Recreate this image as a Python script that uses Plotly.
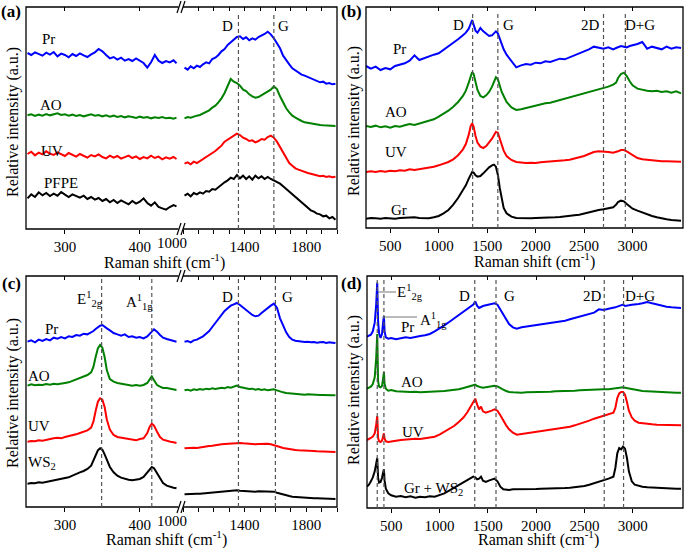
import plotly.graph_objects as go

W, H = 685, 548
FONT = "Liberation Serif, Times New Roman, serif"

# ---------------- DATA ----------------
# panel (a) / (c) broken axis: low-shift segment and high-shift segment
A_L_X = [250, 255, 260, 265, 270, 275, 280, 285, 290, 295, 300, 305, 310, 315, 320, 325, 330, 335, 340, 345,
         350, 355, 360, 365, 370, 375, 380, 385, 390, 395, 400, 405, 410, 415, 420, 425, 430, 435, 440, 445, 449]
R_X = [1010, 1030, 1050, 1070, 1090, 1110, 1130, 1150, 1170, 1190, 1210, 1230, 1250, 1270, 1290, 1310, 1330, 1350,
       1370, 1390, 1410, 1430, 1450, 1470, 1490, 1510, 1530, 1550, 1570, 1590, 1610, 1630, 1650, 1670, 1690, 1710,
       1730, 1750, 1770, 1790, 1810, 1830, 1850, 1870, 1890, 1910, 1930, 1950, 1970, 1990]

a_pr_l = [528, 522, 530, 524, 520, 529, 523, 531, 518, 526, 522, 515, 525, 519, 527, 521, 516, 524, 530, 540,
          533, 522, 512, 516, 508, 514, 505, 510, 504, 512, 506, 498, 484, 500, 522, 505, 498, 504, 500, 506, 497]
a_ao_l = [341, 344, 339, 343, 340, 345, 341, 343, 347, 342, 344, 340, 343, 339, 342, 338, 341, 344, 340, 342,
          338, 341, 337, 340, 336, 339, 335, 338, 336, 333, 337, 334, 336, 332, 335, 333, 336, 332, 334, 331, 334]
a_uv_l = [225, 232, 221, 229, 224, 233, 226, 222, 230, 224, 219, 228, 223, 217, 225, 220, 214, 222, 218, 224,
          216, 212, 220, 214, 219, 211, 216, 220, 213, 218, 210, 216, 212, 220, 213, 217, 209, 215, 211, 216, 210]
a_pf_l = [92, 104, 96, 110, 101, 108, 99, 106, 100, 111, 103, 96, 104, 98, 94, 100, 90, 96, 88, 93,
          84, 90, 80, 87, 78, 86, 80, 74, 84, 76, 82, 92, 78, 70, 80, 66, 62, 58, 66, 72, 68]

a_pr_r = [484, 478, 488, 482, 490, 486, 494, 500, 497, 510, 514, 522, 533, 540, 552, 560, 570, 576, 578, 570,
          575, 566, 572, 568, 576, 580, 585, 592, 584, 572, 556, 542, 520, 505, 494, 482, 476, 468, 463, 460,
          456, 450, 446, 444, 440, 442, 436, 438, 434, 436]
a_ao_r = [332, 336, 334, 338, 340, 342, 346, 352, 356, 364, 370, 380, 392, 408, 428, 450, 442, 438, 430, 418,
          414, 404, 398, 394, 396, 402, 408, 412, 418, 428, 420, 398, 378, 362, 350, 340, 334, 328, 324, 320,
          318, 316, 314, 313, 312, 311, 310, 310, 309, 309]
a_uv_r = [196, 200, 194, 202, 198, 204, 208, 214, 220, 226, 234, 242, 250, 262, 268, 276, 280, 286, 282, 274,
          270, 264, 266, 260, 264, 270, 268, 276, 280, 274, 262, 246, 226, 210, 198, 190, 182, 178, 174, 170,
          168, 166, 163, 160, 158, 160, 156, 158, 155, 157]
a_pf_r = [100, 106, 98, 108, 104, 110, 106, 114, 112, 120, 118, 126, 132, 140, 146, 154, 150, 162, 152, 160,
          150, 158, 148, 160, 152, 158, 150, 156, 150, 146, 140, 136, 128, 120, 112, 104, 98, 90, 82, 72,
          64, 56, 52, 46, 44, 38, 40, 32, 36, 28]

C_L_X = [250, 255, 260, 265, 270, 275, 280, 285, 290, 295, 300, 305, 310, 315, 320, 325, 330, 335,
         338, 341, 344, 347, 350, 353, 356,
         360, 365, 370, 375, 380, 385, 390, 395, 400, 405, 410,
         413, 416, 419,
         423, 427, 431, 436, 441, 445, 449]
c_pr_l = [496, 500, 494, 502, 498, 504, 500, 508, 505, 510, 506, 512, 510, 516, 514, 520, 518, 524,
          528, 534, 540, 544, 546, 542, 536,
          530, 522, 518, 514, 518, 510, 512, 508, 510, 506, 512,
          518, 526, 533,
          526, 516, 508, 504, 500, 498, 496]
c_ao_l = [364, 368, 365, 367, 366, 369, 367, 370, 368, 371, 372, 374, 378, 382, 388, 392, 396, 404,
          420, 450, 476, 486, 478, 450, 410,
          384, 376, 372, 370, 368, 366, 364, 366, 364, 366, 372,
          382, 392, 380,
          366, 361, 357, 357, 355, 353, 351]
c_uv_l = [196, 198, 197, 200, 199, 202, 204, 206, 208, 206, 210, 212, 214, 218, 222, 226, 230, 238,
          256, 288, 316, 326, 322, 300, 262,
          232, 216, 210, 208, 206, 204, 202, 200, 204, 206, 222,
          240, 250, 244,
          226, 210, 202, 198, 196, 194, 192]
c_ws_l = [70, 72, 71, 74, 73, 75, 77, 80, 82, 85, 86, 89, 94, 100, 104, 108, 114, 124,
          138, 156, 170, 176, 172, 158, 140,
          120, 104, 94, 88, 84, 82, 80, 82, 84, 90, 104,
          114, 120, 116,
          100, 84, 72, 64, 60, 58, 56]

c_pr_r = [496, 498, 494, 500, 502, 506, 512, 520, 528, 540, 552, 564, 576, 588, 596, 604, 608, 612, 606, 598,
          590, 582, 576, 572, 574, 582, 590, 598, 604, 610, 598, 566, 542, 524, 510, 502, 499, 497, 496, 495,
          496, 494, 495, 493, 494, 495, 492, 494, 493, 492]
c_ao_r = [350, 352, 349, 353, 351, 354, 352, 355, 353, 356, 354, 357, 358, 356, 360, 358, 361, 364, 360, 358,
          356, 354, 355, 352, 354, 351, 353, 350, 352, 353, 350, 346, 344, 342, 341, 340, 339, 338, 338, 337,
          338, 337, 336, 337, 336, 336, 335, 336, 335, 335]
c_uv_r = [176, 177, 176, 178, 177, 179, 180, 181, 183, 184, 186, 187, 188, 189, 190, 191, 192, 193, 192, 191,
          190, 189, 189, 188, 189, 190, 189, 190, 188, 186, 183, 180, 177, 175, 173, 172, 171, 170, 170, 169,
          169, 168, 168, 167, 167, 167, 166, 166, 166, 165]
c_ws_r = [38, 39, 38, 39, 40, 40, 41, 42, 42, 43, 44, 45, 46, 47, 48, 48, 49, 50, 49, 48,
          47, 47, 47, 46, 47, 47, 46, 47, 46, 46, 43, 40, 37, 35, 33, 31, 30, 29, 28, 28,
          27, 27, 26, 26, 26, 25, 25, 25, 25, 24]

# panel (b)
B_X = [250, 300, 350, 400, 450, 500, 550, 600, 650, 700, 750, 800, 850, 900, 950, 1000, 1050, 1100, 1150, 1200, 1250,
       1280, 1310, 1330, 1345, 1360, 1380, 1400, 1430, 1460, 1490, 1520, 1550, 1570, 1590, 1610, 1630, 1650, 1670,
       1700, 1750, 1800,
       1850, 1900, 1950, 2000, 2050, 2100, 2150, 2200, 2250, 2300, 2350, 2400, 2450, 2500, 2550, 2600, 2650, 2700,
       2750, 2800,
       2830, 2850, 2880, 2910, 2940, 2970, 3000,
       3050, 3100, 3150, 3200, 3250, 3300, 3350, 3400, 3450, 3500]
b_pr = [486, 478, 484, 474, 480, 476, 486, 490, 494, 502, 518, 504, 510, 514, 520, 524, 534, 544, 556, 566, 578,
        586, 598, 612, 624, 610, 592, 586, 600, 590, 582, 576, 578, 584, 590, 584, 566, 548, 536, 520, 500, 482,
        488, 492, 490, 496, 494, 500, 498, 504, 508, 506, 512, 516, 522, 528, 536, 544, 540, 538, 542, 536,
        540, 542, 546, 544, 542, 546, 548,
        552, 558, 538, 544, 540, 536, 544, 538, 542, 540]
b_ao = [306, 303, 307, 302, 305, 301, 306, 304, 308, 312, 309, 313, 316, 320, 326, 334, 342, 352, 364, 378, 396,
        412, 436, 458, 468, 462, 440, 414, 396, 392, 398, 408, 424, 440, 452, 446, 424, 408, 396, 378, 362, 354,
        356, 360, 364, 366, 370, 374, 376, 380, 384, 388, 390, 394, 398, 402, 406, 410, 416, 420, 424, 430,
        436, 450, 462, 466, 456, 440, 428,
        418, 414, 412, 410, 412, 408, 410, 406, 410, 404]
b_uv = [168, 170, 168, 171, 169, 172, 170, 173, 172, 176, 174, 176, 178, 180, 184, 188, 192, 198, 206, 218, 236,
        252, 280, 306, 314, 304, 276, 256, 244, 240, 246, 256, 268, 278, 288, 286, 268, 248, 232, 216, 204, 198,
        196, 195, 196, 195, 197, 198, 198, 200, 201, 203, 205, 208, 212, 216, 222, 228, 230, 230, 228, 226,
        228, 230, 234, 234, 230, 224, 218,
        210, 206, 204, 202, 201, 200, 200, 199, 200, 199]
b_gr = [28, 30, 29, 28, 30, 29, 28, 30, 31, 33, 32, 30, 29, 29, 32, 36, 44, 54, 70, 90, 114,
        128, 148, 162, 168, 166, 158, 154, 156, 164, 174, 182, 188, 190, 184, 160, 120, 84, 60, 44, 34, 30,
        29, 30, 29, 30, 30, 31, 30, 32, 33, 34, 36, 38, 40, 44, 48, 52, 54, 56, 58, 62,
        70, 78, 82, 80, 72, 64, 58,
        52, 46, 40, 36, 32, 28, 26, 24, 22, 22]

# panel (d)
D_X = [250, 270, 290, 310, 330, 345, 356, 365, 375, 390, 405, 418, 425, 432, 445, 470, 500,
       550, 600, 650, 700, 750, 800, 850, 900, 950, 1000, 1050, 1100, 1150, 1200, 1250,
       1290, 1320, 1350, 1370, 1390, 1410, 1430, 1450, 1480, 1510, 1540, 1570, 1600, 1630, 1660, 1690, 1720, 1760, 1800,
       1850, 1900, 1950, 2000, 2050, 2100, 2150, 2200, 2250, 2300, 2350, 2400, 2450, 2500, 2550, 2600, 2650, 2700,
       2750, 2800,
       2820, 2840, 2860, 2880, 2900, 2920, 2940, 2960, 2990, 3020, 3060, 3100,
       3150, 3200, 3250, 3300, 3350, 3400, 3450, 3500]
d_pr = [514, 516, 520, 530, 556, 610, 676, 560, 524, 510, 522, 560, 576, 530, 512, 508, 510,
        506, 508, 512, 510, 514, 516, 518, 522, 530, 538, 548, 558, 568, 578, 588,
        596, 602, 610, 620, 606, 600, 604, 606, 608, 610, 612, 614, 610, 596, 580, 566, 552, 542, 538,
        542, 544, 546, 548, 550, 552, 554, 556, 560, 562, 566, 570, 574, 578, 582, 586, 596, 594, 598, 600,
        602, 604, 606, 608, 610, 606, 606, 608, 610, 610, 612, 614,
        618, 614, 610, 606, 604, 602, 600, 600]
d_ao = [358, 360, 364, 372, 392, 450, 522, 380, 364, 362, 366, 390, 408, 372, 358, 352, 354,
        350, 349, 350, 348, 349, 347, 348, 348, 349, 350, 351, 352, 354, 356, 360,
        363, 366, 369, 370, 366, 363, 362, 361, 362, 364, 365, 367, 365, 359, 355, 351, 348, 347, 346,
        346, 347, 347, 348, 348, 349, 349, 350, 350, 351, 352, 352, 353, 354, 354, 355, 356, 356, 356, 358,
        359, 360, 361, 362, 362, 361, 360, 358, 356, 354, 353, 351,
        350, 349, 348, 348, 347, 347, 346, 346]
d_uv = [204, 206, 210, 214, 224, 250, 276, 210, 200, 198, 202, 216, 224, 208, 200, 198, 200,
        202, 204, 206, 208, 208, 207, 210, 212, 214, 220, 228, 236, 246, 258, 272,
        288, 302, 318, 328, 310, 296, 304, 290, 286, 288, 292, 296, 292, 278, 262, 248, 236, 226, 220,
        222, 226, 228, 230, 232, 234, 236, 238, 240, 242, 244, 248, 252, 256, 262, 268, 272, 276, 280, 286,
        300, 330, 344, 348, 348, 340, 318, 292, 272, 262, 256, 254,
        252, 251, 250, 250, 249, 249, 248, 248]
d_gw = [64, 70, 80, 92, 110, 134, 150, 90, 76, 78, 90, 108, 116, 82, 58, 44, 38,
        34, 36, 32, 35, 31, 34, 32, 35, 34, 38, 44, 52, 60, 70, 78,
        84, 88, 94, 92, 86, 88, 94, 82, 78, 82, 86, 88, 80, 64, 56, 54, 54, 56, 56,
        55, 56, 57, 57, 58, 58, 58, 59, 60, 60, 61, 62, 64, 66, 70, 74, 78, 82, 88, 94,
        120, 164, 180, 176, 184, 178, 150, 110, 80, 70, 66, 64,
        62, 61, 60, 60, 59, 59, 58, 58]

# reference peak positions (dashed guides)
A_PEAKS_R = [1360, 1590]
B_PEAKS = [1350, 1610, 2700, 2925]
C_PEAKS_L = [349, 416]
C_PEAKS_R = [1360, 1600]
D_PEAKS = [356, 425, 1365, 1585, 2705, 2905]

# tick labels
LOW_TICKS = [300, 400]
HIGH_LABEL_TICKS = [1400, 1800]
HIGH_MINOR_TICKS = [1000, 1100, 1200, 1300, 1500, 1600, 1700, 1900, 2000]
WIDE_TICKS = [500, 1000, 1500, 2000, 2500, 3000]

BLUE, GREEN, RED, BLACK = "#0000FF", "#008000", "#FF0000", "#000000"


# ---------------- FIGURE ----------------
def px(x):
    return x / W


def py(y):
    return 1 - y / H


fig = go.Figure()


def line(xs, ys, color, xa, ya):
    fig.add_trace(go.Scatter(x=xs, y=ys, mode="lines", line=dict(color=color, width=2),
                             xaxis=xa, yaxis=ya, showlegend=False, hoverinfo="skip"))


# panel a
for ys, c in [(a_pr_l, BLUE), (a_ao_l, GREEN), (a_uv_l, RED), (a_pf_l, BLACK)]:
    line(A_L_X, ys, c, "x", "y")
for ys, c in [(a_pr_r, BLUE), (a_ao_r, GREEN), (a_uv_r, RED), (a_pf_r, BLACK)]:
    line(R_X, ys, c, "x2", "y")
# panel b
for ys, c in [(b_pr, BLUE), (b_ao, GREEN), (b_uv, RED), (b_gr, BLACK)]:
    line(B_X, ys, c, "x3", "y2")
# panel c
for ys, c in [(c_pr_l, BLUE), (c_ao_l, GREEN), (c_uv_l, RED), (c_ws_l, BLACK)]:
    line(C_L_X, ys, c, "x4", "y3")
for ys, c in [(c_pr_r, BLUE), (c_ao_r, GREEN), (c_uv_r, RED), (c_ws_r, BLACK)]:
    line(R_X, ys, c, "x5", "y3")
# panel d
for ys, c in [(d_pr, BLUE), (d_ao, GREEN), (d_uv, RED), (d_gw, BLACK)]:
    line(D_X, ys, c, "x6", "y4")

# dummy traces for top (mirror) tick axes
for i in range(7, 13):
    anchor = {7: "y", 8: "y", 9: "y2", 10: "y3", 11: "y3", 12: "y4"}[i]
    fig.add_trace(go.Scatter(x=[], y=[], xaxis="x%d" % i, yaxis=anchor, showlegend=False, hoverinfo="skip"))

tickfont = dict(family=FONT, size=15, color="black")


def xax(domain, rng, tickvals, anchor, minor_vals=None):
    d = dict(domain=domain, range=rng, anchor=anchor, tickmode="array", tickvals=tickvals,
             ticktext=[str(v) for v in tickvals], tickangle=0,
             ticks="outside", ticklen=4, tickwidth=1, tickcolor="black",
             showline=False, showgrid=False, zeroline=False, tickfont=tickfont, fixedrange=True)
    if minor_vals:
        d["minor"] = dict(tickmode="array", tickvals=minor_vals, ticks="outside", ticklen=4,
                          tickwidth=1, tickcolor="black", showgrid=False)
    return d


def topax(over, rng, tickvals, anchor, minor_vals=None):
    d = dict(overlaying=over, side="top", anchor=anchor, range=rng, tickmode="array",
             tickvals=tickvals, ticks="inside", ticklen=4, tickwidth=1, tickcolor="black",
             showticklabels=False, showline=False, showgrid=False, zeroline=False)
    if minor_vals:
        d["minor"] = dict(tickmode="array", tickvals=minor_vals, ticks="inside", ticklen=4,
                          tickwidth=1, tickcolor="black", showgrid=False)
    return d


def yax(domain, rng, anchor):
    return dict(domain=domain, range=rng, anchor=anchor, showticklabels=False, ticks="",
                showline=False, showgrid=False, zeroline=False, fixedrange=True)


A_L_RANGE = [248, 451]
R_RANGE = [1000, 2000]
B_RANGE = [250, 3520]

layout = dict(
    width=W, height=H, margin=dict(l=0, r=0, t=0, b=0),
    paper_bgcolor="white", plot_bgcolor="rgba(0,0,0,0)",
    font=dict(family=FONT, color="black"),
    xaxis=xax([px(26), px(178)], A_L_RANGE, LOW_TICKS, "y"),
    xaxis2=xax([px(183), px(337)], R_RANGE, HIGH_LABEL_TICKS, "y", HIGH_MINOR_TICKS),
    xaxis3=xax([px(366), px(683)], B_RANGE, WIDE_TICKS, "y2"),
    xaxis4=xax([px(26), px(178)], A_L_RANGE, LOW_TICKS, "y3"),
    xaxis5=xax([px(183), px(337)], R_RANGE, HIGH_LABEL_TICKS, "y3", HIGH_MINOR_TICKS),
    xaxis6=xax([px(367), px(683)], B_RANGE, WIDE_TICKS, "y4"),
    xaxis7=topax("x", A_L_RANGE, LOW_TICKS, "y"),
    xaxis8=topax("x2", R_RANGE, HIGH_LABEL_TICKS, "y", HIGH_MINOR_TICKS),
    xaxis9=topax("x3", B_RANGE, WIDE_TICKS, "y2"),
    xaxis10=topax("x4", A_L_RANGE, LOW_TICKS, "y3"),
    xaxis11=topax("x5", R_RANGE, HIGH_LABEL_TICKS, "y3", HIGH_MINOR_TICKS),
    xaxis12=topax("x6", B_RANGE, WIDE_TICKS, "y4"),
    yaxis=yax([py(229), py(7)], [0, 666], "x"),
    yaxis2=yax([py(228), py(7)], [0, 663], "x3"),
    yaxis3=yax([py(507), py(276)], [0, 693], "x4"),
    yaxis4=yax([py(508), py(276)], [0, 696], "x6"),
)

shapes = []
# frames
for (x0, y0, x1, y1) in [(26, 7, 337, 229), (366, 7, 683, 228), (26, 276, 337, 507), (367, 276, 683, 508)]:
    shapes.append(dict(type="rect", xref="paper", yref="paper", x0=px(x0), x1=px(x1), y0=py(y1), y1=py(y0),
                       line=dict(color="black", width=1.3)))

# dashed guides
DASH = dict(color="#555555", width=1.2, dash="4px,3px")
for v in A_PEAKS_R:
    shapes.append(dict(type="line", xref="x2", yref="paper", x0=v, x1=v, y0=py(229), y1=py(13), line=DASH))
for v in B_PEAKS:
    shapes.append(dict(type="line", xref="x3", yref="paper", x0=v, x1=v, y0=py(228), y1=py(13), line=DASH))
for v in C_PEAKS_L:
    shapes.append(dict(type="line", xref="x4", yref="paper", x0=v, x1=v, y0=py(507), y1=py(279), line=DASH))
for v in C_PEAKS_R:
    shapes.append(dict(type="line", xref="x5", yref="paper", x0=v, x1=v, y0=py(507), y1=py(279), line=DASH))
for v in D_PEAKS:
    shapes.append(dict(type="line", xref="x6", yref="paper", x0=v, x1=v, y0=py(508), y1=py(279), line=DASH))

# axis breaks
for yb in [7, 229, 276, 507]:
    shapes.append(dict(type="rect", xref="paper", yref="paper", x0=px(178.5), x1=px(183), y0=py(yb + 2),
                       y1=py(yb - 2), fillcolor="white", line=dict(width=0)))
    for xs in [177, 181]:
        shapes.append(dict(type="line", xref="paper", yref="paper", x0=px(xs), x1=px(xs + 4),
                           y0=py(yb + 6), y1=py(yb - 6), line=dict(color="black", width=1.2)))

# leader lines in (d)
shapes.append(dict(type="line", xref="paper", yref="paper", x0=px(378), x1=px(396), y0=py(292), y1=py(292),
                   line=dict(color="#777777", width=1)))
shapes.append(dict(type="line", xref="paper", yref="paper", x0=px(383), x1=px(417), y0=py(317), y1=py(317),
                   line=dict(color="#777777", width=1)))

layout["shapes"] = shapes

ann = []


def T(text, x, y, size=15, bold=False, angle=0):
    if bold:
        text = "<b>%s</b>" % text
    ann.append(dict(text=text, x=px(x), y=py(y), xref="paper", yref="paper", showarrow=False,
                    xanchor="center", yanchor="middle", textangle=angle,
                    font=dict(family=FONT, size=size, color="black")))


# panel letters
T("(a)", 11, 12, 17, True)
T("(b)", 351, 12, 17, True)
T("(c)", 11, 283, 17, True)
T("(d)", 351, 283, 17, True)
# axis titles
YT = "Relative intensity (a.u.)"
XT = "Raman shift (cm<sup>-1</sup>)"
T(YT, 13, 122, 16, angle=-90)
T(YT, 354, 121, 16, angle=-90)
T(YT, 13, 393, 16, angle=-90)
T(YT, 354, 390, 16, angle=-90)
T(XT, 164, 261, 16)
T(XT, 534, 260, 16)
T(XT, 166, 538, 16)
T(XT, 538, 538, 16)
# broken-axis "1000" labels
T("1000", 172, 243, 15)
T("1000", 172, 521, 15)
# sample labels
for txt, x, y in [("Pr", 48, 39), ("AO", 51, 105), ("UV", 52, 151), ("PFPE", 61, 183),
                  ("Pr", 400, 49), ("AO", 396, 112), ("UV", 396, 152), ("Gr", 399, 210),
                  ("Pr", 51, 329), ("AO", 39, 376), ("UV", 39, 426), ("WS<sub>2</sub>", 42, 463),
                  ("Pr", 407, 327), ("AO", 412, 382), ("UV", 413, 432), ("Gr + WS<sub>2</sub>", 433, 489)]:
    T(txt, x, y, 15)
# peak labels
for txt, x, y in [("D", 227, 26), ("G", 283, 26),
                  ("D", 458, 25), ("G", 508, 25), ("2D", 590, 25), ("D+G", 640, 25),
                  ("D", 227, 297), ("G", 287, 297),
                  ("D", 464, 296), ("G", 509, 296), ("2D", 592, 296), ("D+G", 640, 296)]:
    T(txt, x, y, 15)
T("E<sup>1</sup><sub>2g</sub>", 90, 299, 15)
T("A<sup>1</sup><sub>1g</sub>", 139, 302, 15)
T("E<sup>1</sup><sub>2g</sub>", 410, 292, 15)
T("A<sup>1</sup><sub>1g</sub>", 433, 320, 15)

layout["annotations"] = ann
fig.update_layout(**layout)
fig.write_html("out.html", config={"displayModeBar": False},
               post_script="document.body.style.margin='0';document.body.style.overflow='hidden';")
